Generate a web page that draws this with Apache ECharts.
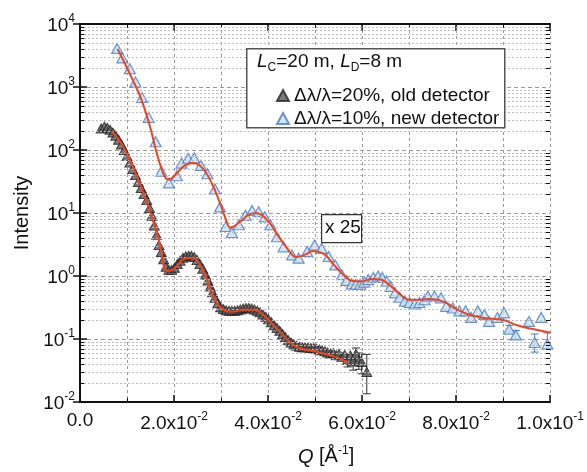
<!DOCTYPE html>
<html>
<head>
<meta charset="utf-8">
<title>SANS intensity</title>
<script src="https://cdn.jsdelivr.net/npm/echarts@6/dist/echarts.min.js"></script>
<style>
html, body { margin: 0; padding: 0; background: #fff; }
#main { width: 587px; height: 472px; }
</style>
</head>
<body>
<div id="main"></div>
<script>
// old detector, dlambda/lambda = 20%
var oldQ = [0.0045, 0.0052, 0.0058, 0.0064, 0.0070, 0.0076, 0.0082, 0.0088, 0.0094, 0.0100,
    0.0106, 0.0112, 0.0118, 0.0124, 0.0130, 0.0136, 0.0142, 0.0148, 0.0153, 0.0158,
    0.0163, 0.0168, 0.0173, 0.0178, 0.0183, 0.0189, 0.0195, 0.0201, 0.0207, 0.0213,
    0.0219, 0.0225, 0.0231, 0.0237, 0.0243, 0.0249, 0.0255, 0.0261, 0.0267, 0.0272,
    0.0277, 0.0282, 0.0287, 0.0293, 0.0299, 0.0305, 0.0311, 0.0317, 0.0323, 0.0329,
    0.0335, 0.0341, 0.0347, 0.0353, 0.0359, 0.0365, 0.0371, 0.0377, 0.0383, 0.0389,
    0.0395, 0.0401, 0.0407, 0.0413, 0.0419, 0.0425, 0.0431, 0.0437, 0.0443, 0.0449,
    0.0455, 0.0461, 0.0467, 0.0473, 0.0479, 0.0485, 0.0491, 0.0497, 0.0503, 0.0509,
    0.0515, 0.0521, 0.0527, 0.0533, 0.0539, 0.0545, 0.0551, 0.0557, 0.0563, 0.0569,
    0.0575, 0.0581, 0.0587, 0.0593, 0.0599, 0.0610];
var oldI = [220, 235, 225, 210, 190, 168, 145, 122, 100, 80,
    63, 50, 40, 31, 25, 20, 16, 12, 9.0, 6.3,
    4.5, 3.1, 2.4, 1.85, 1.4, 1.25, 1.25, 1.35, 1.55, 1.75,
    1.95, 2.05, 2.1, 2.1, 2.0, 1.8, 1.55, 1.3, 1.05, 0.85,
    0.68, 0.55, 0.45, 0.37, 0.32, 0.30, 0.285, 0.28, 0.28, 0.28,
    0.285, 0.295, 0.305, 0.31, 0.31, 0.305, 0.295, 0.28, 0.265, 0.245,
    0.225, 0.205, 0.185, 0.165, 0.15, 0.135, 0.12, 0.107, 0.096, 0.088,
    0.082, 0.078, 0.075, 0.074, 0.074, 0.073, 0.072, 0.072, 0.070, 0.068,
    0.066, 0.064, 0.061, 0.059, 0.060, 0.055, 0.058, 0.052, 0.056, 0.047,
    0.055, 0.044, 0.058, 0.046, 0.043, 0.030];
var oldErrQ = [0.0569, 0.0581, 0.0587, 0.0593, 0.0599, 0.0610];
var oldErrLo = [0.036, 0.032, 0.044, 0.033, 0.028, 0.0135];
var oldErrHi = [0.058, 0.056, 0.072, 0.060, 0.058, 0.057];

// new detector, dlambda/lambda = 10% (scaled x 25)
var newQ = [0.0079, 0.0090, 0.0106, 0.0118, 0.0132, 0.0146, 0.0161, 0.0173, 0.0189, 0.0206,
    0.0216, 0.0230, 0.0243, 0.0257, 0.0271, 0.0287, 0.0298, 0.0310, 0.0323, 0.0338,
    0.0352, 0.0366, 0.0380, 0.0393, 0.0405, 0.0419, 0.0433, 0.0451, 0.0465, 0.0483,
    0.0499, 0.0514, 0.0529, 0.0543, 0.0557, 0.0567, 0.0578, 0.0587, 0.0596, 0.0605,
    0.0613, 0.0624, 0.0634, 0.0643, 0.0652, 0.0661, 0.0670, 0.0680, 0.0691, 0.0701,
    0.0712, 0.0722, 0.0733, 0.0740, 0.0754, 0.0768, 0.0779, 0.0793, 0.0807, 0.0820,
    0.0832, 0.0846, 0.0860, 0.0870, 0.0888, 0.0902, 0.0913, 0.0927, 0.0955, 0.0967,
    0.0981, 0.0994];
var newI = [4100, 2900, 1950, 1200, 680, 330, 135, 46, 30, 39,
    62, 74, 75, 57, 42, 24, 12.5, 6.1, 4.9, 6.5,
    9.2, 11, 10.5, 8.7, 6.5, 4.2, 2.9, 2.16, 1.92, 2.45,
    3.1, 2.75, 2.04, 1.5, 1.05, 0.85, 0.75, 0.74, 0.74, 0.80,
    0.875, 0.95, 1.0, 0.95, 0.83, 0.68, 0.54, 0.46, 0.40, 0.38,
    0.36, 0.38, 0.42, 0.48, 0.48, 0.45, 0.33, 0.31, 0.28, 0.28,
    0.22, 0.28, 0.245, 0.19, 0.22, 0.26, 0.143, 0.116, 0.19, 0.088,
    0.22, 0.083];
var newErrQ = [0.0913, 0.0927, 0.0967, 0.0994];
var newErrLo = [0.125, 0.100, 0.062, 0.070];
var newErrHi = [0.165, 0.136, 0.120, 0.125];

// red fit curves
var fitOldQ = [0.0067, 0.0090, 0.0110, 0.0130, 0.0150, 0.0170, 0.0185, 0.0200, 0.0220, 0.0240,
    0.0255, 0.0270, 0.0285, 0.0300, 0.0320, 0.0350, 0.0370, 0.0390, 0.0410, 0.0430,
    0.0450, 0.0470, 0.0500, 0.0520, 0.0540, 0.0560, 0.0570];
var fitOldI = [200, 120, 60, 26, 10, 3.2, 1.2, 1.3, 1.85, 1.95,
    1.5, 0.9, 0.45, 0.31, 0.27, 0.29, 0.29, 0.24, 0.17, 0.12,
    0.085, 0.07, 0.064, 0.058, 0.053, 0.046, 0.042];
var fitNewQ = [0.0080, 0.0095, 0.0110, 0.0130, 0.0150, 0.0160, 0.0170, 0.0180, 0.0188, 0.0205,
    0.0220, 0.0240, 0.0260, 0.0280, 0.0300, 0.0310, 0.0320, 0.0340, 0.0360, 0.0375,
    0.0400, 0.0420, 0.0440, 0.0460, 0.0480, 0.0495, 0.0520, 0.0540, 0.0560, 0.0580,
    0.0600, 0.0620, 0.0640, 0.0660, 0.0680, 0.0700, 0.0720, 0.0740, 0.0760, 0.0780,
    0.0800, 0.0830, 0.0860, 0.0900, 0.0930, 0.0960, 0.1000];
var fitNewI = [4000, 2400, 1400, 650, 220, 110, 60, 38, 34, 42,
    55, 62, 52, 30, 13, 8, 5.9, 7.2, 9.5, 10,
    7.5, 4.5, 2.8, 2.0, 2.2, 2.5, 2.2, 1.5, 1.05, 0.83,
    0.82, 0.9, 0.88, 0.70, 0.52, 0.42, 0.42, 0.43, 0.42, 0.37,
    0.30, 0.24, 0.215, 0.20, 0.165, 0.145, 0.126];

// tick values for the log grid
var decades = [0.01, 0.1, 1, 10, 100, 1000];
var minorSteps = [2, 3, 4, 5, 6, 7, 8, 9];

var FONT = '"Liberation Sans", Arial, sans-serif';

function pairs(xs, ys) {
    return xs.map(function (x, i) { return [x, ys[i]]; });
}
function triples(xs, lo, hi) {
    return xs.map(function (x, i) { return [x, lo[i], hi[i]]; });
}

var minorVals = [];
decades.forEach(function (d) {
    minorSteps.forEach(function (m) { minorVals.push(+(d * m).toPrecision(3)); });
});

var minorGrid = minorVals.map(function (v) { return { yAxis: v }; });
var minorTicksL = minorVals.map(function (v) { return [{ coord: [0, v] }, { coord: [0.0009, v] }]; });
var minorTicksR = minorVals.map(function (v) { return [{ coord: [0.1, v] }, { coord: [0.0991, v] }]; });

function errRender(color) {
    return function (params, api) {
        var x = api.value(0);
        var lo = api.coord([x, api.value(1)]);
        var hi = api.coord([x, api.value(2)]);
        var w = 4;
        var st = { stroke: color, lineWidth: 1 };
        return {
            type: 'group',
            children: [
                { type: 'line', shape: { x1: lo[0], y1: lo[1], x2: hi[0], y2: hi[1] }, style: st },
                { type: 'line', shape: { x1: lo[0] - w, y1: lo[1], x2: lo[0] + w, y2: lo[1] }, style: st },
                { type: 'line', shape: { x1: hi[0] - w, y1: hi[1], x2: hi[0] + w, y2: hi[1] }, style: st }
            ]
        };
    };
}

function xLabel(v) {
    if (Math.abs(v) < 1e-9) return '{b|0.0}';
    var e = Math.floor(Math.log10(v) + 1e-9);
    var m = (v / Math.pow(10, e)).toFixed(1);
    return '{b|' + m + 'x10}{s|' + e + '}';
}
function yLabel(v) {
    return '{b|10}{s|' + Math.round(Math.log10(v)) + '}';
}
var labelRich = {
    b: { fontSize: 19, fontFamily: FONT, color: '#111', verticalAlign: 'bottom' },
    s: { fontSize: 12, fontFamily: FONT, color: '#111', verticalAlign: 'bottom', padding: [0, 0, 10, 0] }
};

var axisLine = { show: true, lineStyle: { color: '#111', width: 2 } };

var option = {
    animation: false,
    backgroundColor: '#fff',
    grid: { left: 80, right: 34, top: 24, bottom: 67 },
    legend: {
        data: ['Δλ/λ=20%, old detector', 'Δλ/λ=10%, new detector'],
        orient: 'vertical',
        left: 271,
        top: 81,
        itemWidth: 12,
        itemHeight: 11,
        itemGap: 4,
        itemTextGap: 14,
        z: 20,
        textStyle: { fontSize: 19, fontFamily: FONT, color: '#111' }
    },
    xAxis: [
        {
            type: 'value', min: 0, max: 0.1, interval: 0.02,
            axisLine: axisLine,
            axisTick: { inside: true, length: 7, lineStyle: { color: '#111', width: 1.5 } },
            minorTick: { show: true, splitNumber: 2, length: 4, lineStyle: { color: '#111' } },
            splitLine: { show: true, lineStyle: { color: '#999', type: [3, 3], width: 1 } },
            minorSplitLine: { show: true, lineStyle: { color: '#999', type: [3, 3], width: 1 } },
            axisLabel: { formatter: xLabel, rich: labelRich, margin: 9, showMaxLabel: true, showMinLabel: true },
            name: '{i|Q} [Å{s|-1}]',
            nameLocation: 'middle',
            nameGap: 43,
            nameTextStyle: {
                padding: [0, 0, 0, 22],
                rich: {
                    i: { fontSize: 20, fontFamily: FONT, fontStyle: 'italic', color: '#111', verticalAlign: 'bottom' },
                    s: { fontSize: 12, fontFamily: FONT, color: '#111', verticalAlign: 'bottom', padding: [0, 0, 10, 0] }
                },
                fontSize: 20, fontFamily: FONT, color: '#111'
            }
        },
        {
            type: 'value', min: 0, max: 0.1, interval: 0.02, position: 'top',
            axisLine: axisLine,
            axisTick: { inside: true, length: 7, lineStyle: { color: '#111', width: 1.5 } },
            minorTick: { show: true, splitNumber: 2, length: 4, lineStyle: { color: '#111' } },
            axisLabel: { show: false },
            splitLine: { show: false }
        }
    ],
    yAxis: [
        {
            type: 'log', logBase: 10, min: 0.01, max: 10000, splitNumber: 6,
            axisLine: axisLine,
            axisTick: { inside: true, length: 7, lineStyle: { color: '#111', width: 1.5 } },
            splitLine: { show: true, lineStyle: { color: '#999', type: [4, 3], width: 1 } },
            axisLabel: { formatter: yLabel, rich: labelRich, margin: 5 },
            name: 'Intensity',
            nameLocation: 'middle',
            nameGap: 48,
            nameTextStyle: { fontSize: 20, fontFamily: FONT, color: '#111' }
        },
        {
            type: 'log', logBase: 10, min: 0.01, max: 10000, splitNumber: 6, position: 'right',
            axisLine: axisLine,
            axisTick: { inside: true, length: 7, lineStyle: { color: '#111', width: 1.5 } },
            axisLabel: { show: false },
            splitLine: { show: false }
        }
    ],
    graphic: [
        {
            type: 'rect', left: 246, top: 48, z: 10,
            shape: { width: 258, height: 79 },
            style: { fill: '#fff', stroke: '#555', lineWidth: 1.5 }
        },
        {
            type: 'text', left: 257, top: 52, z: 21,
            style: {
                text: '{i|L}{sub|C}{n|=20 m, }{i|L}{sub|D}{n|=8 m}',
                rich: {
                    i: { fontSize: 19, fontFamily: FONT, fontStyle: 'italic', fill: '#111', verticalAlign: 'top' },
                    n: { fontSize: 19, fontFamily: FONT, fill: '#111', verticalAlign: 'top' },
                    sub: { fontSize: 12, fontFamily: FONT, fill: '#111', verticalAlign: 'top', padding: [10, 0, 0, 0] }
                }
            }
        },
        {
            type: 'rect', left: 321, top: 214, z: 10,
            shape: { width: 40, height: 28 },
            style: { fill: '#fff', stroke: '#333', lineWidth: 1.2 }
        },
        {
            type: 'text', left: 325, top: 218, z: 11,
            style: { text: 'x 25', fontSize: 19, fontFamily: FONT, fill: '#111' }
        }
    ],
    series: [
        {
            name: 'grid', type: 'scatter', data: [], z: 1, silent: true,
            markLine: {
                silent: true, symbol: 'none', animation: false,
                label: { show: false },
                lineStyle: { color: '#bbb', type: [2, 2], width: 1 },
                data: minorGrid
            }
        },
        {
            name: 'ticks', type: 'scatter', data: [], z: 6, silent: true,
            markLine: {
                silent: true, symbol: 'none', animation: false,
                label: { show: false },
                lineStyle: { color: '#111', type: 'solid', width: 1 },
                data: minorTicksL.concat(minorTicksR)
            }
        },
        {
            name: 'Δλ/λ=20%, old detector', type: 'scatter',
            data: pairs(oldQ, oldI),
            symbol: 'triangle', symbolSize: [10, 9], z: 3,
            itemStyle: { color: '#5a5a5a', borderColor: '#222', borderWidth: 1 }
        },
        {
            name: 'oldErr', type: 'custom', z: 3,
            data: triples(oldErrQ, oldErrLo, oldErrHi),
            encode: { x: 0, y: [1, 2] },
            renderItem: errRender('#333')
        },
        {
            name: 'Δλ/λ=10%, new detector', type: 'scatter',
            data: pairs(newQ, newI),
            symbol: 'triangle', symbolSize: [11, 10], z: 3,
            itemStyle: { color: '#c6e4f4', borderColor: '#4a78c0', borderWidth: 1.2 }
        },
        {
            name: 'newErr', type: 'custom', z: 3,
            data: triples(newErrQ, newErrLo, newErrHi),
            encode: { x: 0, y: [1, 2] },
            renderItem: errRender('#4a78c0')
        },
        {
            name: 'fitOld', type: 'line', smooth: 0.4, showSymbol: false, z: 5,
            data: pairs(fitOldQ, fitOldI),
            lineStyle: { color: '#ee4422', width: 2 }
        },
        {
            name: 'fitNew', type: 'line', smooth: 0.4, showSymbol: false, z: 5,
            data: pairs(fitNewQ, fitNewI),
            lineStyle: { color: '#ee4422', width: 2 }
        }
    ]
};

var myChart = echarts.init(document.getElementById('main'));
myChart.setOption(option);
</script>
</body>
</html>
